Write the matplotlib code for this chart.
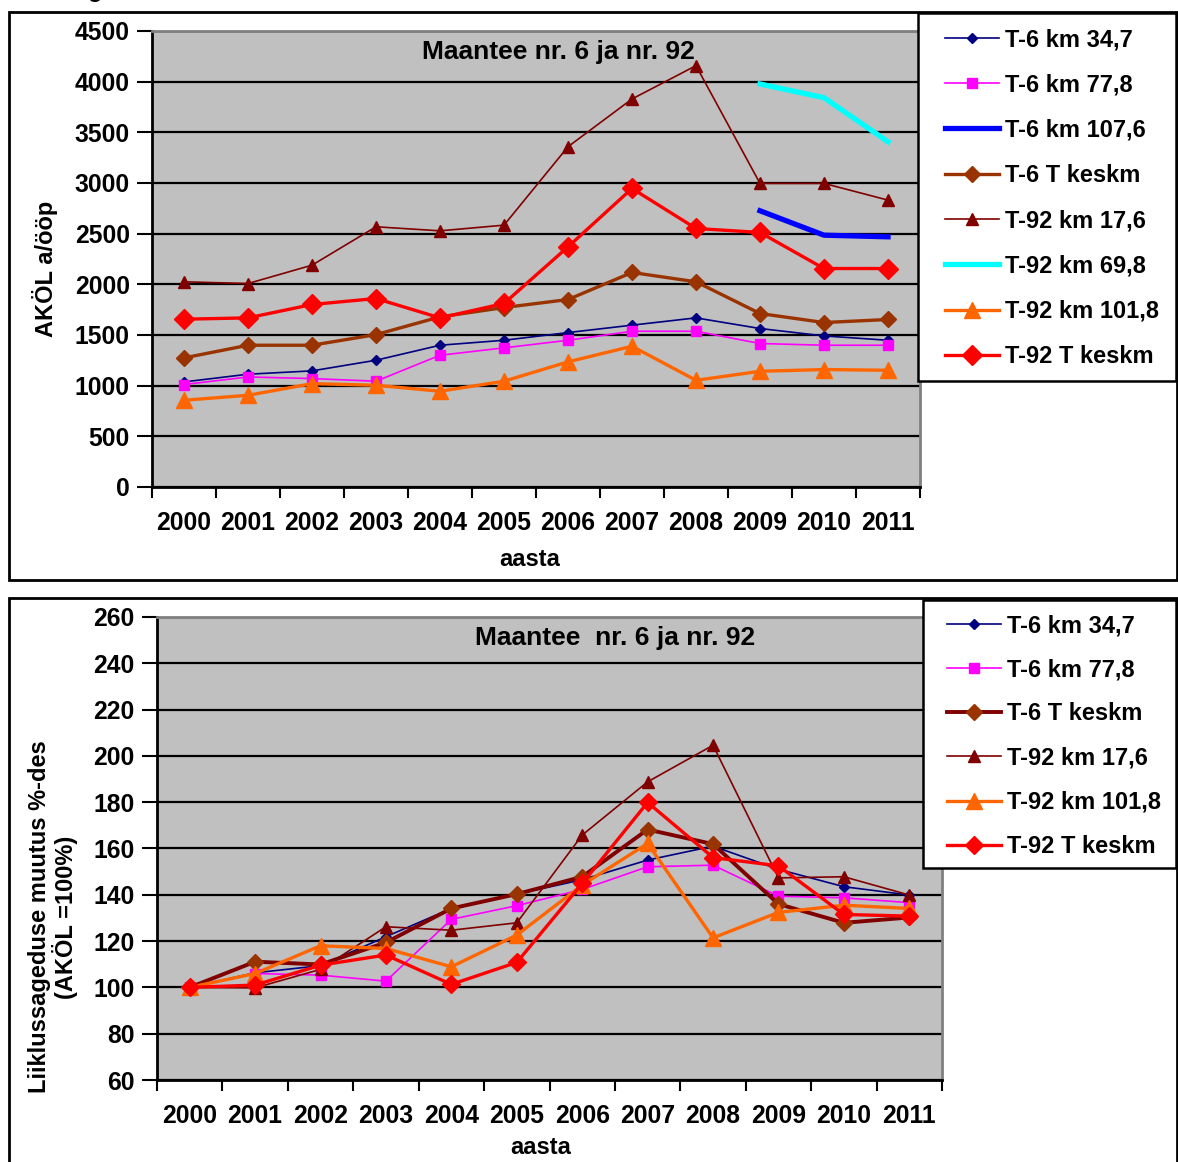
import numpy as np
import matplotlib
matplotlib.use("Agg")
import matplotlib.pyplot as plt
from matplotlib.patches import Rectangle

plt.rcParams['font.family'] = ['Liberation Sans', 'DejaVu Sans']
plt.rcParams['font.weight'] = 'bold'

nan = np.nan
years = ['2000', '2001', '2002', '2003', '2004', '2005', '2006', '2007', '2008', '2009', '2010', '2011']

# Top chart: AKÖL a/ööp
t6_km34 = [1037, 1113, 1146, 1251, 1399, 1448, 1524, 1597, 1669, 1564, 1491, 1448]
t6_km77 = [1011, 1086, 1070, 1044, 1300, 1373, 1448, 1537, 1537, 1416, 1399, 1399]
t6_km107 = [nan, nan, nan, nan, nan, nan, nan, nan, nan, 2726, 2485, 2469]
t6_avg = [1274, 1399, 1399, 1504, 1679, 1771, 1850, 2117, 2025, 1712, 1623, 1653]
t92_km17 = [2025, 2008, 2189, 2568, 2528, 2584, 3358, 3829, 4158, 2996, 2996, 2831]
t92_km69 = [nan, nan, nan, nan, nan, nan, nan, nan, nan, 3977, 3842, 3407]
t92_km101 = [856, 905, 1020, 1004, 945, 1044, 1235, 1389, 1053, 1142, 1159, 1152]
t92_avg = [1656, 1669, 1801, 1860, 1669, 1811, 2370, 2946, 2551, 2512, 2156, 2156]

# Bottom chart: change in % (AKÖL 2000 = 100%)
p_t6_km34 = [100, 106.3, 109.4, 121.9, 134.1, 140.3, 146.5, 155.0, 161.0, 151.0, 143.5, 139.9]
p_t6_km77 = [100, 106.0, 105.3, 102.7, 129.4, 135.3, 142.3, 152.1, 152.8, 139.4, 138.7, 136.6]
p_t6_avg = [100, 111.1, 109.9, 119.4, 134.1, 140.3, 147.8, 168.2, 161.9, 136.0, 127.9, 130.2]
p_t92_km17 = [100, 99.8, 107.8, 126.2, 124.7, 127.9, 165.8, 188.8, 204.6, 147.3, 147.8, 139.9]
p_t92_km101 = [100, 106.0, 118.0, 116.8, 108.9, 122.6, 144.2, 162.2, 121.4, 132.4, 135.5, 134.1]
p_t92_avg = [100, 101.0, 109.6, 114.0, 101.3, 110.8, 144.9, 179.9, 156.1, 152.5, 131.5, 130.8]

W, H = 1178, 1162
FS_TICK = 17.8
FS_LAB = 17
FS_LEG = 17
FS_TITLE = 19
fig = plt.figure(figsize=(W / 100, H / 100), dpi=100)

def px_rect(x0, y0, x1, y1):
    return [x0 / W, 1 - y1 / H, (x1 - x0) / W, (y1 - y0) / H]

def style_axes(ax, ymin, ymax, ystep):
    ax.set_facecolor('#C0C0C0')
    ax.set_xlim(-0.5, 11.5)
    ax.set_ylim(ymin, ymax)
    ax.set_yticks(np.arange(ymin, ymax + ystep / 2, ystep))
    ax.set_xticks(range(12))
    ax.set_xticklabels(years)
    ax.set_xticks(np.arange(-0.5, 12, 1), minor=True)
    ax.tick_params(axis='x', which='major', length=0, pad=17.5, labelsize=FS_TICK)
    ax.tick_params(axis='x', which='minor', length=8, width=1.5, direction='out')
    ax.tick_params(axis='y', which='major', length=11, width=1.5, direction='out', pad=5,
                   labelsize=FS_TICK)
    ax.yaxis.grid(True, color='black', lw=1.6)
    ax.set_axisbelow(True)
    for s in ('left', 'bottom'):
        ax.spines[s].set_color('black')
        ax.spines[s].set_linewidth(2)
    for s in ('top', 'right'):
        ax.spines[s].set_color('#808080')
        ax.spines[s].set_linewidth(2)
    for lab in ax.get_xticklabels() + ax.get_yticklabels():
        lab.set_fontweight('bold')

x = np.arange(12)

# frames
fig.add_artist(Rectangle((9 / W, 1 - 580 / H), (1177 - 9) / W, (580 - 12) / H,
                         transform=fig.transFigure, fill=False, lw=2, ec='black', zorder=0))
fig.add_artist(Rectangle((9 / W, 1 - 1175 / H), (1177 - 9) / W, (1175 - 598) / H,
                         transform=fig.transFigure, fill=False, lw=2, ec='black', zorder=0))

# ---------------- top chart ----------------
ax1 = fig.add_axes(px_rect(152, 31, 920, 487))
style_axes(ax1, 0, 4500, 500)
h = []
h += ax1.plot(x, t6_km34, color='#000080', lw=1.2, marker='D', ms=5.5, label='T-6 km 34,7')
h += ax1.plot(x, t6_km77, color='#FF00FF', lw=1.2, marker='s', ms=6.5, label='T-6 km 77,8')
h += ax1.plot(x, t6_km107, color='#0000FF', lw=3.8, label='T-6 km 107,6')
h += ax1.plot(x, t6_avg, color='#993300', lw=2.4, marker='D', ms=8, label='T-6 T keskm')
h += ax1.plot(x, t92_km17, color='#800000', lw=1.2, marker='^', ms=8.5, label='T-92 km 17,6')
h += ax1.plot(x, t92_km69, color='#00FFFF', lw=3.8, label='T-92 km 69,8')
h += ax1.plot(x, t92_km101, color='#FF6600', lw=2.4, marker='^', ms=12, label='T-92 km 101,8')
h += ax1.plot(x, t92_avg, color='#FF0000', lw=2.4, marker='D', ms=10, label='T-92 T keskm')
ax1.text((558 - 152) / 768, 1 - (52 - 31) / 456, 'Maantee nr. 6 ja nr. 92', transform=ax1.transAxes,
         ha='center', va='center', fontsize=FS_TITLE, fontweight='bold')
ax1.set_xlabel('aasta', fontsize=FS_LAB, fontweight='bold')
ax1.xaxis.set_label_coords((530 - 152) / 768, (487 - 560) / 456)
ax1.xaxis.label.set_va('center')
ax1.set_ylabel('AKÖL a/ööp', fontsize=FS_LAB, fontweight='bold')
ax1.yaxis.set_label_coords((45 - 152) / 768, (487 - 269) / 456)
ax1.yaxis.label.set_va('center')

fig.add_artist(Rectangle((918 / W, 1 - 381 / H), (1176 - 918) / W, (381 - 13) / H,
                         transform=fig.transFigure, fc='white', lw=1.8, ec='black', zorder=5))
leg1 = fig.legend(handles=h, loc='upper left', bbox_to_anchor=(945 / W, 1 - 28 / H),
                  frameon=False, borderpad=0, borderaxespad=0, handlelength=2.3,
                  handletextpad=0.25, labelspacing=0.945, numpoints=1,
                  prop={'size': FS_LEG, 'weight': 'bold'})
leg1.set_zorder(10)

# ---------------- bottom chart ----------------
ax2 = fig.add_axes(px_rect(157, 617, 942, 1080))
style_axes(ax2, 60, 260, 20)
h2 = []
h2 += ax2.plot(x, p_t6_km34, color='#000080', lw=1.2, marker='D', ms=5.5, label='T-6 km 34,7')
h2 += ax2.plot(x, p_t6_km77, color='#FF00FF', lw=1.2, marker='s', ms=6.5, label='T-6 km 77,8')
h2 += ax2.plot(x, p_t6_avg, color='#800000', lw=2.8, marker='D', ms=8, mfc='#993300', mec='#993300',
               label='T-6 T keskm')
h2 += ax2.plot(x, p_t92_km17, color='#800000', lw=1.2, marker='^', ms=8.5, label='T-92 km 17,6')
h2 += ax2.plot(x, p_t92_km101, color='#FF6600', lw=2.4, marker='^', ms=11, label='T-92 km 101,8')
h2 += ax2.plot(x, p_t92_avg, color='#FF0000', lw=2.4, marker='D', ms=9.5, label='T-92 T keskm')
ax2.text((615 - 157) / 785, 1 - (638 - 617) / 463, 'Maantee  nr. 6 ja nr. 92', transform=ax2.transAxes,
         ha='center', va='center', fontsize=FS_TITLE, fontweight='bold')
ax2.set_xlabel('aasta', fontsize=FS_LAB, fontweight='bold')
ax2.xaxis.set_label_coords((541 - 157) / 785, (1080 - 1147) / 463)
ax2.xaxis.label.set_va('center')
ax2.set_ylabel('Liiklussageduse muutus %-des\n(AKÖL =100%)', fontsize=FS_LAB, fontweight='bold',
               linespacing=1.05)
ax2.yaxis.set_label_coords((53 - 157) / 785, (1080 - 917) / 463)
ax2.yaxis.label.set_va('center')

fig.add_artist(Rectangle((923 / W, 1 - 868 / H), (1176 - 923) / W, (868 - 600) / H,
                         transform=fig.transFigure, fc='white', lw=1.8, ec='black', zorder=5))
leg2 = fig.legend(handles=h2, loc='upper left', bbox_to_anchor=(947 / W, 1 - 614 / H),
                  frameon=False, borderpad=0, borderaxespad=0, handlelength=2.3,
                  handletextpad=0.25, labelspacing=0.9, numpoints=1,
                  prop={'size': FS_LEG, 'weight': 'bold'})
leg2.set_zorder(10)

# fragment of caption text above the chart (cut at the top edge, as in the source image)
fig.text(88 / W, 1 + 3 / H, 'g', fontsize=FS_LAB, ha='left', va='baseline')

fig.savefig('out.png', dpi=100)
